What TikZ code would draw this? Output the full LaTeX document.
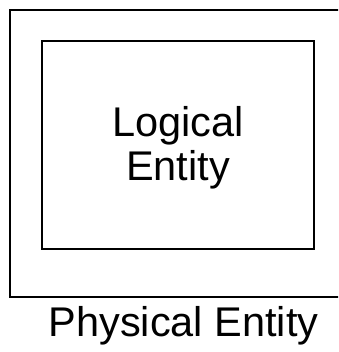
\documentclass[tikz,border=0pt]{standalone}
\usepackage{fontspec}
\setmainfont{Liberation Sans}
\begin{document}
\begin{tikzpicture}[x=1pt,y=-1pt,
  box/.style={draw=black,line width=2pt},
  lbl/.style={font=\fontsize{41.5}{44}\selectfont,align=center,inner sep=0pt}]
\useasboundingbox (0,0) rectangle (338,352);
\clip (0,0) rectangle (338,352);
\draw[box] (345,10) -- (10,10) -- (10,297) -- (345,297);
\node[box,minimum width=272pt,minimum height=208pt,inner sep=0pt] (logical) at (178,145) {};
\node[lbl,anchor=base] (ltxt) at (178,181) {Logical\\Entity};
\node[lbl,anchor=base] (phys) at (183.5,336) {Physical Entity};
\end{tikzpicture}
\end{document}
